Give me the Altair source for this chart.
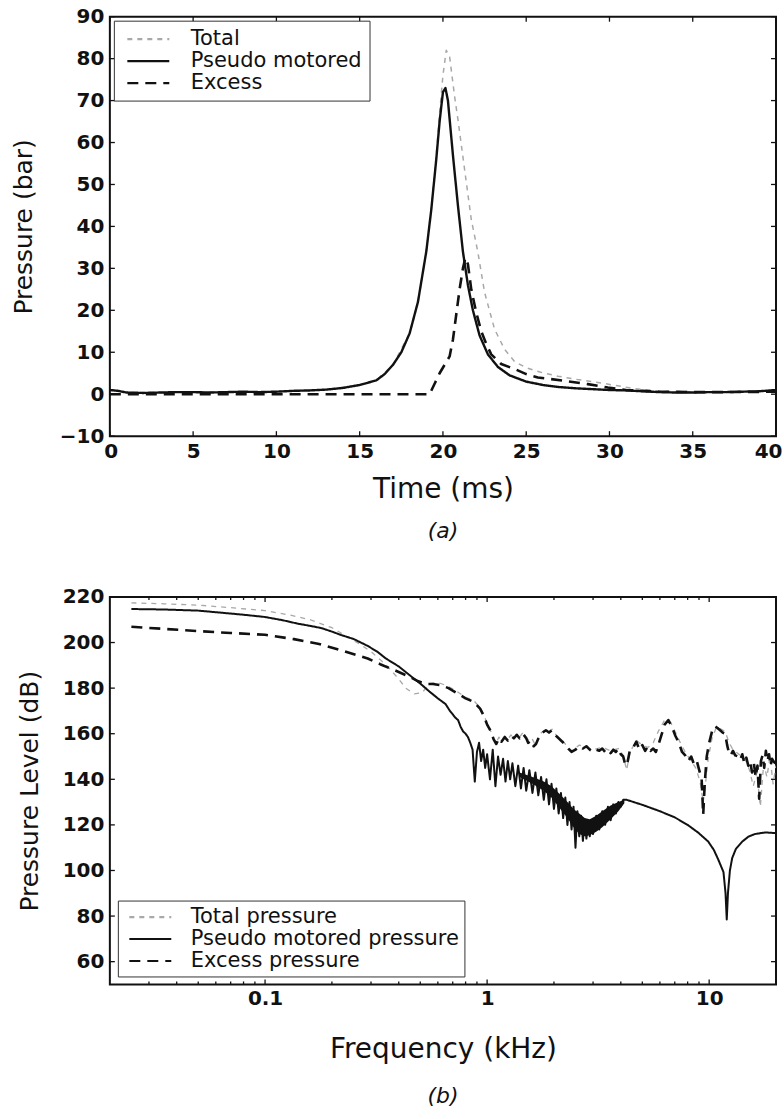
import altair as alt
import pandas as pd

FONT = "DejaVu Sans"

# ---------------- Panel (a): pressure vs time ----------------
a_names = ["Total", "Pseudo motored", "Excess"]

a_tot_t = [0, 1, 3, 5, 7, 9, 11, 13, 15, 16, 17, 18, 18.5, 19, 19.3, 19.6, 19.8, 20.0, 20.2, 20.4,
           20.7, 20.9, 21.3, 21.7, 22.1, 22.5, 23.1, 23.7, 24.3, 25.0, 25.9, 26.9, 27.9, 29.3, 30.5,
           31.5, 33, 35, 37, 40]
a_tot_p = [1.0, 0.4, 0.4, 0.5, 0.5, 0.5, 0.8, 1.1, 2.2, 3.3, 7.0, 14.5, 22, 34, 44, 57, 67, 76, 82, 80.5,
           71, 65.5, 53.6, 41.7, 33.8, 24.3, 15.5, 10.7, 7.8, 6.3, 5.2, 4.3, 3.6, 2.8, 2.0,
           1.3, 0.7, 0.6, 0.6, 0.8]

a_pm_t = [0, 0.5, 1, 2, 3, 4, 5, 6, 7, 8, 9, 10, 11, 12, 13, 14, 15, 16, 16.5, 17, 17.5, 18, 18.5, 19,
          19.3, 19.6, 19.8, 20.0, 20.15, 20.3, 20.6, 20.9, 21.2, 21.5, 21.8, 22.2, 22.7, 23.3, 24, 25,
          26, 27, 28, 29, 30, 31, 32, 33, 34, 35, 36, 37, 38, 39, 40]
a_pm_p = [1.0, 0.8, 0.4, 0.3, 0.4, 0.5, 0.5, 0.4, 0.5, 0.6, 0.5, 0.6, 0.8, 0.9, 1.1, 1.5, 2.2, 3.3, 4.8,
          7.0, 10, 14.5, 22, 34, 44, 56, 65, 72, 73, 70, 57, 45, 34, 26, 20, 14, 9.5, 6.5, 4.5, 3.0,
          2.2, 1.7, 1.4, 1.2, 1.0, 0.9, 0.7, 0.5, 0.4, 0.4, 0.5, 0.5, 0.6, 0.7, 1.0]

a_ex_t = [0, 5, 10, 15, 19.2, 19.5, 19.8, 20.1, 20.4, 20.6, 20.8, 21.0, 21.2, 21.35, 21.5, 21.7, 22.0,
          22.3, 22.6, 22.9, 23.5, 24.3, 25.0, 25.7, 26.5, 27.3, 28.0, 28.7, 29.3, 29.9, 31.0, 32.0,
          33.0, 35.0, 37.0, 40.0]
a_ex_p = [0, 0, 0, 0, 0, 2.5, 5, 7, 9, 13, 19, 25, 30, 32.5, 31, 25, 19.5, 15, 12, 9.5, 7.2, 6.0, 4.8,
          4.0, 3.6, 3.2, 2.8, 2.4, 2.0, 1.6, 1.0, 0.8, 0.6, 0.5, 0.5, 0.6]

a_xticks = [0, 5, 10, 15, 20, 25, 30, 35, 40]
a_yticks = [-10, 0, 10, 20, 30, 40, 50, 60, 70, 80, 90]

# ---------------- Panel (b): pressure level vs frequency ----------------
b_names = ["Total pressure", "Pseudo motored pressure", "Excess pressure"]

b_tot_f = [0.025, 0.035, 0.05, 0.07, 0.1, 0.13, 0.16, 0.2, 0.24, 0.27,
           0.3, 0.33, 0.36, 0.4, 0.43, 0.47, 0.51, 0.55, 0.6, 0.66,
           0.72, 0.8, 0.87, 0.93, 0.97, 1.0, 1.04, 1.07, 1.1, 1.13,
           1.16, 1.2, 1.24, 1.28, 1.32, 1.36, 1.4, 1.45, 1.5, 1.55,
           1.6, 1.65, 1.72, 1.78, 1.84, 1.9, 1.96, 2.02, 2.1, 2.18,
           2.25, 2.32, 2.4, 2.6, 2.8, 3.0, 3.3, 3.6, 3.9, 4.1,
           4.25, 4.4, 4.7, 5.0, 5.3, 5.6, 5.9, 6.3, 6.7, 7.1,
           7.5, 7.9, 8.3, 8.7, 9.1, 9.4, 9.6, 9.9, 10.3, 10.8,
           11.3, 11.8, 12.3, 12.8, 13.4, 14.0, 14.6, 15.2, 15.8, 16.4,
           17.0, 17.6, 18.2, 18.8, 19.4, 20.0]
b_tot_db = [217.4, 217.0, 216.4, 215.3, 214.0, 212.0, 210.0, 206.5, 202.0, 199.0,
            196.0, 192.5, 189.0, 184.0, 180.0, 177.5, 178.0, 182.0, 182.5, 181.0,
            179.0, 176.0, 174.5, 171.5, 168.0, 164.5, 161.0, 158.0, 156.0, 158.5,
            157.0, 159.0, 157.5, 159.5, 157.5, 160.0, 158.5, 160.5, 158.5, 156.5,
            157.5, 155.0, 159.5, 161.0, 162.0, 161.0, 162.0, 160.0, 158.5, 157.0,
            155.5, 154.0, 152.5, 155.0, 154.0, 153.0, 154.0, 152.5, 153.5, 150.5,
            144.0, 152.0, 157.0, 155.0, 154.0, 156.0, 161.0, 166.0, 165.0, 160.0,
            155.0, 151.0, 148.0, 145.0, 139.0, 130.0, 137.0, 149.0, 158.0, 163.0,
            162.0, 161.0, 156.0, 153.0, 151.5, 150.0, 148.5, 144.0, 137.0, 143.0,
            128.0, 147.0, 141.0, 150.0, 138.0, 146.0]

b_pm_f = [0.025, 0.035, 0.05, 0.065, 0.08, 0.1, 0.12, 0.14, 0.16, 0.18,
          0.2, 0.22, 0.25, 0.27, 0.29, 0.32, 0.35, 0.4, 0.45, 0.5,
          0.55, 0.6, 0.65, 0.68, 0.7, 0.72, 0.74, 0.76, 0.78, 0.80,
          0.82, 0.84, 0.86, 0.88, 0.90, 0.92, 0.94, 0.96, 0.98, 1.00,
          1.03, 1.06, 1.09, 1.12, 1.15, 1.18, 1.21, 1.24, 1.27, 1.30,
          1.34, 1.38, 1.42, 1.46, 1.50, 1.55, 1.60, 1.65, 1.70, 1.75,
          1.80, 1.85, 1.90, 1.95, 2.00, 2.05, 2.10, 2.15, 2.20, 2.25,
          2.30, 2.35, 2.40, 2.45, 2.50, 2.55, 2.60, 2.65, 2.70, 2.75,
          2.80, 2.85, 2.90, 2.95, 3.00, 3.10, 3.20, 3.30, 3.40, 3.50,
          3.60, 3.70, 3.80, 3.90, 4.00, 4.10, 4.25, 5.0, 6.0, 7.0,
          8.0, 8.9, 9.9, 10.5, 11.0, 11.6, 11.85, 12.0, 12.15, 12.4,
          12.7, 13.2, 14.1, 15.0, 16.1, 17.9, 20.0]
b_pm_db = [214.7, 214.5, 214.0, 213.0, 212.2, 211.2, 209.8, 208.3, 207.3, 206.3,
           204.8, 203.3, 201.6, 200.0, 198.5, 196.0, 193.0, 189.5, 185.5, 182.0,
           178.5, 175.5, 173.0, 170.0, 168.5, 167.0, 166.0, 163.0, 161.0, 160.0,
           158.5, 156.0, 153.0, 139.0, 152.0, 156.0, 148.0, 153.0, 145.0, 151.0,
           140.0, 153.0, 137.0, 150.0, 142.0, 149.0, 139.0, 148.0, 140.0, 147.0,
           137.0, 146.0, 136.0, 145.0, 135.0, 144.0, 134.0, 143.0, 133.0, 141.0,
           131.0, 140.0, 129.0, 138.0, 127.0, 136.0, 125.0, 134.0, 123.0, 132.0,
           120.0, 130.0, 118.0, 128.0, 110.0, 126.0, 115.0, 124.0, 113.0, 122.0,
           114.0, 121.0, 115.0, 122.0, 116.0, 124.0, 118.0, 126.0, 120.0, 128.0,
           122.0, 129.0, 125.0, 130.0, 128.0, 131.0, 131.0, 128.8, 126.0, 123.3,
           120.0, 116.7, 112.7, 109.0, 104.7, 99.3, 90.0, 78.5, 90.0, 100.0,
           105.5, 109.5, 112.7, 114.8, 116.0, 116.7, 116.4]

# dense (unresolved) oscillation band of the pseudo motored spectrum
b_band_f = [1.4, 1.6, 1.8, 1.95, 2.1, 2.3, 2.45, 2.6, 2.75, 2.9, 3.1, 3.3, 3.6, 3.9, 4.15]
b_band_lo = [141, 138, 135, 132, 128, 123, 119, 116, 115, 115.5, 117, 119, 122.5, 126, 129.5]
b_band_hi = [143, 141, 139, 137, 134, 130, 127, 125, 123, 122.5, 124, 126, 128.5, 130, 131]

b_ex_f = [0.025, 0.035, 0.05, 0.07, 0.1, 0.135, 0.175, 0.226, 0.29, 0.33,
          0.38, 0.44, 0.49, 0.53, 0.57, 0.62, 0.67, 0.74, 0.80, 0.87,
          0.93, 0.97, 1.00, 1.04, 1.07, 1.10, 1.13, 1.16, 1.20, 1.24,
          1.28, 1.32, 1.36, 1.40, 1.45, 1.50, 1.53, 1.58, 1.62, 1.66,
          1.72, 1.78, 1.84, 1.90, 1.96, 2.02, 2.10, 2.18, 2.25, 2.32,
          2.40, 2.50, 2.60, 2.70, 2.80, 2.90, 3.00, 3.10, 3.20, 3.30,
          3.40, 3.50, 3.60, 3.70, 3.80, 3.90, 4.00, 4.10, 4.20, 4.30,
          4.40, 4.55, 4.70, 4.85, 5.00, 5.15, 5.30, 5.45, 5.60, 5.75,
          5.90, 6.10, 6.30, 6.55, 6.80, 7.05, 7.30, 7.55, 7.80, 8.05,
          8.30, 8.55, 8.80, 9.05, 9.25, 9.40, 9.55, 9.75, 10.0, 10.3,
          10.6, 10.9, 11.2, 11.5, 11.8, 12.05, 12.25, 12.5, 12.8, 13.1,
          13.5, 13.8, 14.1, 14.4, 14.7, 15.0, 15.3, 15.6, 15.9, 16.2,
          16.5, 16.8, 17.1, 17.4, 17.7, 18.0, 18.3, 18.6, 18.9, 19.2,
          19.6, 20.0]
b_ex_db = [206.9, 206.0, 205.0, 204.2, 203.4, 201.5, 199.4, 196.3, 193.0, 190.5,
           188.0, 185.3, 183.0, 181.8, 181.8, 181.3, 180.0, 177.5, 175.5, 174.0,
           171.0, 167.5, 164.0, 161.0, 157.5, 155.5, 158.0, 156.5, 158.5, 157.0,
           159.0, 158.0, 159.5, 158.0, 160.0, 158.0, 156.0, 157.0, 154.5, 155.5,
           159.0, 160.5, 161.5, 160.5, 161.5, 159.5, 158.0, 156.5, 155.0, 153.5,
           152.0, 153.0, 154.5, 153.5, 154.5, 153.0, 152.0, 153.0, 152.5, 153.5,
           152.0, 153.0, 151.5, 153.0, 152.0, 153.5, 151.0, 150.0, 146.0, 148.0,
           153.0, 154.0, 156.5, 153.0, 155.0, 152.5, 154.5, 152.5, 153.5, 152.0,
           155.0, 159.5, 164.0, 166.0, 163.0, 159.0, 156.0, 152.0, 150.5, 148.0,
           150.0, 146.5, 148.0, 143.5, 140.0, 124.5, 138.0, 150.0, 156.0, 161.0,
           163.3, 162.5, 161.5, 160.5, 160.0, 155.0, 152.0, 150.5, 152.5, 150.5,
           150.0, 148.5, 151.0, 147.0, 149.5, 146.0, 148.0, 143.0, 147.0, 141.0,
           146.0, 131.5, 148.0, 150.5, 145.0, 152.5, 148.0, 151.0, 146.0, 149.0,
           147.5, 147.0]

b_xmajor = [0.1, 1, 10]
b_xminor = [0.03, 0.04, 0.05, 0.06, 0.07, 0.08, 0.09, 0.2, 0.3, 0.4, 0.5, 0.6, 0.7, 0.8, 0.9,
            2, 3, 4, 5, 6, 7, 8, 9]
b_yticks = [60, 80, 100, 120, 140, 160, 180, 200, 220]

COLORS = ["#a8a8a8", "#111111", "#111111"]
DASHES = [[5, 5], [1, 0], [11, 7]]
SYMBOL_PATH = "M-0.5,0H3.7"   # long horizontal stroke for legend keys


def series_df(names, xs_list, ys_list):
    rows = []
    for name, xs, ys in zip(names, xs_list, ys_list):
        for x, y in zip(xs, ys):
            rows.append({"series": name, "x": x, "y": y})
    return pd.DataFrame(rows)


def make_panel(df, names, widths, xenc, yenc, legend, ticks_v, ticks_h, w, h, caption,
               caption_offset, band=None):
    color = alt.Color("series:N", scale=alt.Scale(domain=names, range=COLORS), legend=legend)
    dash = alt.StrokeDash("series:N", scale=alt.Scale(domain=names, range=DASHES), legend=legend)
    layers = []
    for i, (name, sw) in enumerate(zip(names, widths)):
        layers.append(
            alt.Chart(df).transform_filter(alt.datum.series == name)
            .mark_line(strokeWidth=sw, clip=True, strokeJoin="round")
            .encode(x=xenc, y=yenc, color=color, strokeDash=dash)
        )
        if i == 1 and band is not None:
            layers.append(
                alt.Chart(band).mark_area(color="#111", opacity=1, clip=True)
                .encode(x=xenc, y=yenc, y2=alt.Y2("y2:Q"))
            )
    layers.append(
        alt.Chart(ticks_v).mark_rule(color="#111", strokeWidth=1.3)
        .encode(x=xenc, y=yenc, y2=alt.Y2("y2:Q"))
    )
    layers.append(
        alt.Chart(ticks_h).mark_rule(color="#111", strokeWidth=1.3)
        .encode(x=xenc, x2=alt.X2("x2:Q"), y=yenc)
    )
    return alt.layer(*layers).properties(
        width=w, height=h,
        title=alt.TitleParams(caption, orient="bottom", anchor="middle", font=FONT,
                              fontSize=22, fontStyle="italic", fontWeight="normal",
                              color="#111", offset=caption_offset),
    )


def make_axis(values, label_pad, title_pad, title_size, fmt=None, flush=False, flush_offset=0):
    kw = dict(values=values, ticks=False, domain=False, grid=False, labelFont=FONT,
              labelFontSize=20, labelFontWeight="bold", labelColor="#111",
              labelPadding=label_pad, labelFlush=flush, labelOverlap=False,
              titleFont=FONT, titleFontSize=title_size, titleFontWeight="normal",
              titleColor="#111", titlePadding=title_pad)
    if flush:
        kw["labelFlushOffset"] = flush_offset
    if fmt:
        kw["format"] = fmt
    return alt.Axis(**kw)


def make_legend(orient, offset, padding, label_offset):
    return alt.Legend(title=None, orient=orient, offset=offset, fillColor="white",
                      strokeColor="#333", padding=padding, symbolType=SYMBOL_PATH,
                      symbolSize=400, symbolStrokeWidth=2.2, labelFont=FONT,
                      labelFontSize=21, labelColor="#111", labelOffset=label_offset,
                      rowPadding=0, labelLimit=500)


PLOT_W = 667

# ----- panel a -----
A_X0, A_X1, A_Y0, A_Y1 = 0, 40, -10, 90
A_H = 420
a_df = series_df(a_names, [a_tot_t, a_pm_t, a_ex_t], [a_tot_p, a_pm_p, a_ex_p])
tl_y = (A_Y1 - A_Y0) / A_H * 5
tl_x = (A_X1 - A_X0) / PLOT_W * 5
a_tv = pd.DataFrame(
    [{"x": t, "y": A_Y0, "y2": A_Y0 + tl_y} for t in a_xticks]
    + [{"x": t, "y": A_Y1, "y2": A_Y1 - tl_y} for t in a_xticks]
)
a_th = pd.DataFrame(
    [{"y": v, "x": A_X0, "x2": A_X0 + tl_x} for v in a_yticks]
    + [{"y": v, "x": A_X1, "x2": A_X1 - tl_x} for v in a_yticks]
)
a_x = alt.X("x:Q", title="Time (ms)", scale=alt.Scale(domain=[A_X0, A_X1], nice=False),
            axis=make_axis(a_xticks, 5, 14, 28, flush=True, flush_offset=6))
a_y = alt.Y("y:Q", title="Pressure (bar)", scale=alt.Scale(domain=[A_Y0, A_Y1], nice=False),
            axis=make_axis(a_yticks, 6, 23, 25))
panel_a = make_panel(a_df, a_names, [1.5, 2.4, 2.6], a_x, a_y,
                     make_legend("top-left", 4, 7, 47), a_tv, a_th, PLOT_W, A_H, "(a)", 18)

# ----- panel b -----
B_X0, B_X1, B_Y0, B_Y1 = 0.02, 20, 50, 220
B_H = 388
b_df = series_df(b_names, [b_tot_f, b_pm_f, b_ex_f], [b_tot_db, b_pm_db, b_ex_db])
b_band = pd.DataFrame({"x": b_band_f, "y": b_band_lo, "y2": b_band_hi})
btl_y = (B_Y1 - B_Y0) / B_H * 5
btl_ym = (B_Y1 - B_Y0) / B_H * 3
fac = 10 ** (5 / 223)
b_tv = pd.DataFrame(
    [{"x": f, "y": B_Y0, "y2": B_Y0 + btl_y} for f in b_xmajor]
    + [{"x": f, "y": B_Y1, "y2": B_Y1 - btl_y} for f in b_xmajor]
    + [{"x": f, "y": B_Y0, "y2": B_Y0 + btl_ym} for f in b_xminor]
    + [{"x": f, "y": B_Y1, "y2": B_Y1 - btl_ym} for f in b_xminor]
)
b_th = pd.DataFrame(
    [{"y": v, "x": B_X0, "x2": B_X0 * fac} for v in b_yticks]
    + [{"y": v, "x": B_X1, "x2": B_X1 / fac} for v in b_yticks]
)
b_x = alt.X("x:Q", title="Frequency (kHz)",
            scale=alt.Scale(type="log", domain=[B_X0, B_X1], nice=False),
            axis=make_axis(b_xmajor, 4, 27, 28, fmt="~g"))
b_y = alt.Y("y:Q", title="Pressure Level (dB)", scale=alt.Scale(domain=[B_Y0, B_Y1], nice=False),
            axis=make_axis(b_yticks, 6, 20, 25))
panel_b = make_panel(b_df, b_names, [1.3, 2.0, 2.6], b_x, b_y,
                     make_legend("bottom-left", 8, 5, 45), b_tv, b_th, PLOT_W, B_H, "(b)", 23,
                     band=b_band)

chart = (
    alt.vconcat(panel_a, panel_b, spacing=43)
    .resolve_scale(color="independent", strokeDash="independent", x="independent", y="independent")
    .properties(padding={"left": 10, "top": 5, "right": 1, "bottom": 2}, background="white")
    .configure_view(stroke="#111", strokeWidth=2)
)

chart.save("out.html", embed_options={"renderer": "svg", "actions": False})
